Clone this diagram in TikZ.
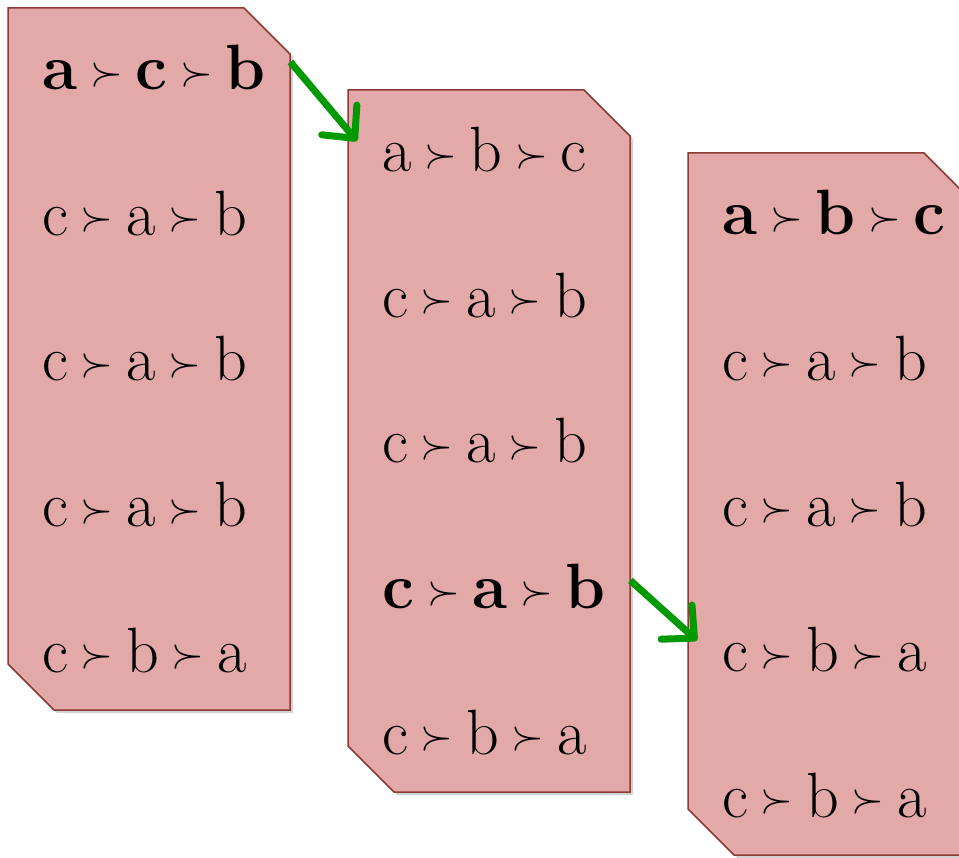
\documentclass[tikz,border=0pt]{standalone}
\usepackage{xcolor}
\usepackage{tikz}
\usetikzlibrary{arrows.meta, shadows}
\definecolor{rose}{HTML}{E2A9A8}
\definecolor{bordeau}{HTML}{8A3B36}
\definecolor{vertvif}{HTML}{009A00}
\newcommand{\pp}{\hspace{0.2em}\raisebox{4.5pt}{\scalebox{4.2}{\normalsize$\succ$}}\hspace{0.2em}}
\tikzset{
  bulletin/.style={fill=rose, draw=bordeau, line width=1.5pt, line join=miter,
    drop shadow={shadow xshift=3pt, shadow yshift=-3pt, opacity=0.35}},
  choix/.style={anchor=base west, inner sep=0pt, text width=248pt, align=left,
    font=\fontsize{64}{70}\selectfont},
  fleche/.style={-{Straight Barb[length=24pt, width=46pt, round]}, line width=7pt, color=vertvif},
}

\begin{document}
\begin{tikzpicture}[x=1pt, y=1pt]
    \clip (0,0) rectangle (959,-858);
    % Bulletins
    \foreach \g/\h in {8/8, 348/90, 688/153} {
      \draw[bulletin] (\g,-\h) -- (\g+236,-\h) -- (\g+282,-\h-46) -- (\g+282,-\h-702)
        -- (\g+46,-\h-702) -- (\g,-\h-656) -- cycle;
    }
    % Préférences
    \foreach \k/\txt in {0/{\bfseries a\pp c\pp b}, 1/{c\pp a\pp b}, 2/{c\pp a\pp b}, 3/{c\pp a\pp b}, 4/{c\pp b\pp a}}
      \node[choix] (un\k) at (42,-90-145.5*\k) {\txt};
    \foreach \k/\txt in {0/{a\pp b\pp c}, 1/{c\pp a\pp b}, 2/{c\pp a\pp b}, 3/{\bfseries c\pp a\pp b}, 4/{c\pp b\pp a}}
      \node[choix] (deux\k) at (382,-172-145.5*\k) {\txt};
    \foreach \k/\txt in {0/{\bfseries a\pp b\pp c}, 1/{c\pp a\pp b}, 2/{c\pp a\pp b}, 3/{c\pp b\pp a}, 4/{c\pp b\pp a}}
      \node[choix] (trois\k) at (722,-235-145.5*\k) {\txt};
    % Flèches
    \draw[fleche] ([yshift=28pt]un0.base east) -- ([shift={(-25pt,31pt)}]deux0.base west);
    \draw[fleche] ([yshift=28pt]deux3.base east) -- ([shift={(-25pt,31pt)}]trois3.base west);
\end{tikzpicture}
\end{document}
